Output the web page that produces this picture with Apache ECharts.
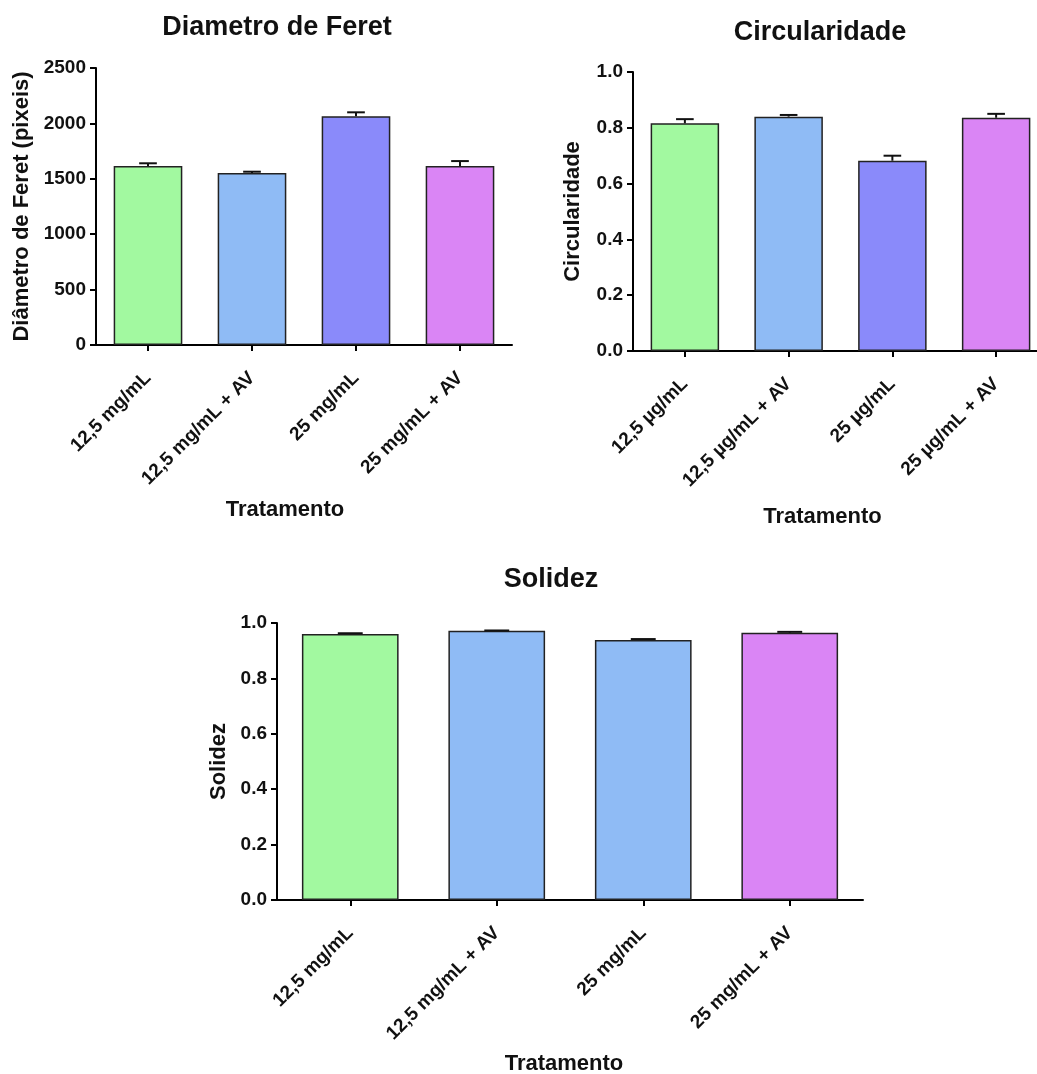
<!DOCTYPE html>
<html>
<head>
<meta charset="utf-8">
<script src="https://cdn.jsdelivr.net/npm/echarts@6/dist/echarts.min.js"></script>
<style>
html,body{margin:0;padding:0;background:#fff}
#main{width:1037px;height:1074px}
</style>
</head>
<body>
<div id="main"></div>
<script>
// categorias
var catMg = ['12,5 mg/mL', '12,5 mg/mL + AV', '25 mg/mL', '25 mg/mL + AV'];
var catUg = ['12,5 µg/mL', '12,5 µg/mL + AV', '25 µg/mL', '25 µg/mL + AV'];

// media e erro (so barra de cima)
var feretMean = [1615, 1553, 2064, 1615];
var feretErr = [25, 11, 36, 45];
var circMean = [0.816, 0.840, 0.682, 0.836];
var circErr = [0.015, 0.006, 0.018, 0.014];
var solidMean = [0.960, 0.972, 0.939, 0.965];
var solidErr = [0.003, 0.001, 0.003, 0.003];

// eixos
var feretTicks = [0, 500, 1000, 1500, 2000, 2500];
var ratioTicks = [0, 0.2, 0.4, 0.6, 0.8, 1.0];

var colors1 = ['#a2f9a0', '#8fbbf5', '#8a8afa', '#da85f5'];
var colors3 = ['#a2f9a0', '#8fbbf5', '#8fbbf5', '#da85f5'];

var FONT = '"Liberation Sans", Arial, sans-serif';
var txt = '#111';

function yAx(idx, ticks, gap, dec) {
	return {
		type: 'value', gridIndex: idx,
		min: ticks[0], max: ticks[ticks.length - 1],
		interval: ticks[1] - ticks[0],
		name: '', nameLocation: 'middle', nameGap: gap,
		nameTextStyle: { fontFamily: FONT, fontSize: 22, fontWeight: 'bold', color: txt },
		axisLine: { show: true, lineStyle: { color: '#000', width: 2 } },
		axisTick: { show: true, length: 6, lineStyle: { color: '#000', width: 2 } },
		splitLine: { show: false },
		axisLabel: {
			fontFamily: FONT, fontSize: 19, fontWeight: 'bold', color: txt, margin: 10,
			formatter: function (v) { return dec ? v.toFixed(1) : String(v); }
		}
	};
}

function xAx(idx, cats, shift, gap) {
	return {
		type: 'category', gridIndex: idx, data: cats,
		name: 'Tratamento', nameLocation: 'middle', nameGap: gap,
		nameTextStyle: { fontFamily: FONT, fontSize: 22, fontWeight: 'bold', color: txt, padding: [0, shift, 0, 0] },
		axisLine: { show: true, lineStyle: { color: '#000', width: 2 } },
		axisTick: { show: true, alignWithLabel: true, length: 6, lineStyle: { color: '#000', width: 2 } },
		axisLabel: { interval: 0, rotate: 45, margin: 30, fontFamily: FONT, fontSize: 19, fontWeight: 'bold', color: txt }
	};
}

function barSeries(idx, means, cols) {
	return {
		type: 'bar', xAxisIndex: idx, yAxisIndex: idx, barWidth: '66%',
		data: means.map(function (m, i) {
			return { value: m, itemStyle: { color: cols[i], borderColor: '#222', borderWidth: 1.5 } };
		})
	};
}

function errSeries(idx, means, errs) {
	return {
		type: 'custom', xAxisIndex: idx, yAxisIndex: idx, z: 5,
		data: means.map(function (m, i) { return [i, m, m + errs[i]]; }),
		renderItem: function (params, api) {
			var b = api.coord([api.value(0), api.value(1)]);
			var t = api.coord([api.value(0), api.value(2)]);
			var half = api.size([1, 0])[0] * 0.17 / 2;
			var st = { stroke: '#111', lineWidth: 2 };
			return {
				type: 'group', children: [
					{ type: 'line', shape: { x1: b[0], y1: b[1], x2: t[0], y2: t[1] }, style: st },
					{ type: 'line', shape: { x1: t[0] - half, y1: t[1], x2: t[0] + half, y2: t[1] }, style: st }
				]
			};
		}
	};
}

function title(x, y, s) {
	return {
		type: 'text', x: x, y: y,
		style: { text: s, fill: txt, font: 'bold 27px ' + FONT, textAlign: 'center', textVerticalAlign: 'middle' }
	};
}

var y1 = yAx(0, feretTicks, 63, false); y1.name = 'Diâmetro de Feret (pixeis)';
var y2 = yAx(1, ratioTicks, 49, true); y2.name = 'Circularidade';
var y3 = yAx(2, ratioTicks, 47, true); y3.name = 'Solidez';

var chart = echarts.init(document.getElementById('main'));
chart.setOption({
	backgroundColor: '#fff',
	animation: false,
	graphic: [
		title(277, 28, 'Diametro de Feret'),
		title(820, 33, 'Circularidade'),
		title(551, 580, 'Solidez')
	],
	grid: [
		{ left: 96, top: 68, width: 416, height: 277, outerBoundsMode: 'none' },
		{ left: 633, top: 72, width: 415, height: 279, outerBoundsMode: 'none' },
		{ left: 277, top: 623, width: 586, height: 277, outerBoundsMode: 'none' }
	],
	xAxis: [xAx(0, catMg, 38, 154), xAx(1, catUg, 36, 155), xAx(2, catMg, 12, 153)],
	yAxis: [y1, y2, y3],
	series: [
		barSeries(0, feretMean, colors1), errSeries(0, feretMean, feretErr),
		barSeries(1, circMean, colors1), errSeries(1, circMean, circErr),
		barSeries(2, solidMean, colors3), errSeries(2, solidMean, solidErr)
	]
});
</script>
</body>
</html>
